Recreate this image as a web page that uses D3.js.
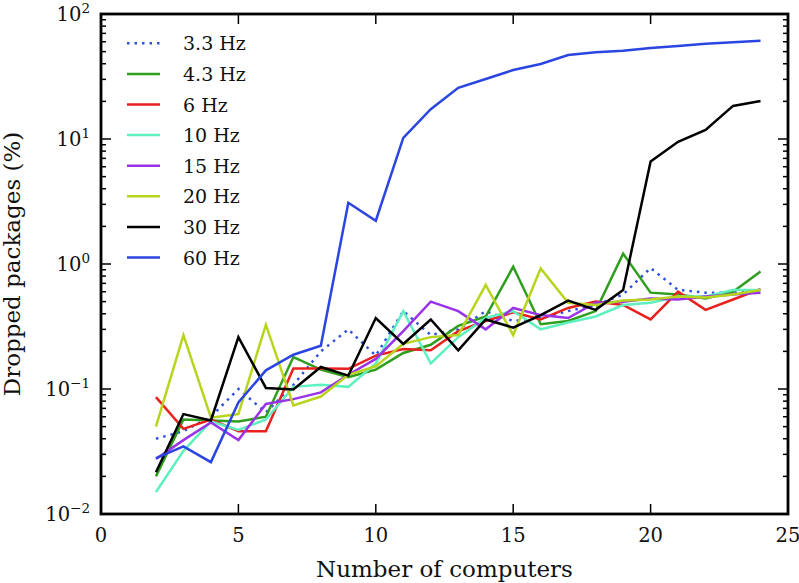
<!DOCTYPE html>
<html><head><meta charset="utf-8">
<script src="https://cdn.jsdelivr.net/npm/d3@7/dist/d3.min.js"></script>
<style>body{margin:0;background:#fff;} svg{display:block;}</style>
</head><body>
<svg id="chart" width="799" height="583"></svg>
<script>
// ---------- data ----------
const computers = [2,3,4,5,6,7,8,9,10,11,12,13,14,15,16,17,18,19,20,21,22,23,24];
const seriesNames = ["3.3 Hz","4.3 Hz","6 Hz","10 Hz","15 Hz","20 Hz","30 Hz","60 Hz"];
const hz3_3 = [0.040,0.046,0.060,0.100,0.065,0.108,0.200,0.300,0.185,0.420,0.270,0.300,0.420,0.350,0.370,0.420,0.470,0.570,0.930,0.620,0.590,0.590,0.600];
const hz4_3 = [0.020,0.057,0.056,0.055,0.060,0.180,0.143,0.124,0.143,0.194,0.226,0.320,0.380,0.950,0.330,0.350,0.420,1.210,0.590,0.570,0.530,0.600,0.870];
const hz6   = [0.086,0.048,0.057,0.046,0.046,0.146,0.146,0.145,0.185,0.209,0.204,0.290,0.350,0.410,0.360,0.445,0.500,0.470,0.360,0.600,0.430,0.520,0.630];
const hz10  = [0.015,0.032,0.055,0.047,0.057,0.104,0.108,0.104,0.160,0.420,0.160,0.260,0.370,0.420,0.300,0.340,0.380,0.470,0.490,0.550,0.550,0.620,0.620];
const hz15  = [0.0275,0.039,0.054,0.039,0.076,0.083,0.094,0.130,0.174,0.290,0.500,0.420,0.300,0.445,0.390,0.370,0.490,0.500,0.530,0.520,0.550,0.570,0.590];
const hz20  = [0.050,0.270,0.059,0.063,0.327,0.074,0.087,0.130,0.152,0.230,0.260,0.270,0.680,0.270,0.920,0.490,0.470,0.510,0.520,0.550,0.540,0.570,0.620];
const hz30  = [0.0216,0.063,0.056,0.260,0.102,0.099,0.150,0.128,0.370,0.229,0.360,0.204,0.360,0.310,0.390,0.510,0.430,0.620,6.6,9.5,11.8,18.4,20.1];
const hz60  = [0.028,0.0348,0.026,0.078,0.141,0.188,0.222,3.09,2.22,10.2,17.3,25.7,30.2,35.6,39.8,47.0,49.4,50.9,53.5,55.5,57.9,59.3,61.1];
const seriesValues = [hz3_3,hz4_3,hz6,hz10,hz15,hz20,hz30,hz60];
const seriesColors = ["#3050e0","#2f9e1e","#e8201e","#5ff0c0","#9a33e8","#b8d41c","#000000","#2b45e0"];
const seriesDash   = ["2.5,5",null,null,null,null,null,null,null];
const xTicks = [0,5,10,15,20,25];
const yTickExps = [-2,-1,0,1,2];
const xLabel = "Number of computers";
const yLabel = "Dropped packages (%)";

// ---------- layout ----------
const L = 101, R = 788, T = 14, B = 514;
const font = "'DejaVu Serif', serif";
const svg = d3.select("#chart");
const x = d3.scaleLinear().domain([0,25]).range([L,R]);
const y = d3.scaleLog().domain([0.01,100]).range([B,T]);

// data lines (clipped)
svg.append("clipPath").attr("id","clip").append("rect")
  .attr("x",L).attr("y",T).attr("width",R-L).attr("height",B-T);
const line = d3.line().x(d=>x(d[0])).y(d=>y(d[1]));
const g = svg.append("g").attr("clip-path","url(#clip)");
seriesValues.forEach((vals,i)=>{
  const p = g.append("path")
    .attr("d", line(computers.map((c,j)=>[c,vals[j]])))
    .attr("fill","none").attr("stroke",seriesColors[i])
    .attr("stroke-width",2.5).attr("stroke-linejoin","miter");
  if (seriesDash[i]) p.attr("stroke-dasharray",seriesDash[i]);
});

// ticks
const tickG = svg.append("g").attr("stroke","#000").attr("stroke-width",1.5);
xTicks.forEach(t=>{
  tickG.append("line").attr("x1",x(t)).attr("x2",x(t)).attr("y1",B).attr("y2",B-10);
  tickG.append("line").attr("x1",x(t)).attr("x2",x(t)).attr("y1",T).attr("y2",T+10);
});
yTickExps.forEach(e=>{
  const v = Math.pow(10,e);
  tickG.append("line").attr("x1",L).attr("x2",L+10).attr("y1",y(v)).attr("y2",y(v));
  tickG.append("line").attr("x1",R).attr("x2",R-10).attr("y1",y(v)).attr("y2",y(v));
  if (e < 2) for (let m=2;m<=9;m++){
    const mv = m*v;
    tickG.append("line").attr("x1",L).attr("x2",L+5).attr("y1",y(mv)).attr("y2",y(mv));
    tickG.append("line").attr("x1",R).attr("x2",R-5).attr("y1",y(mv)).attr("y2",y(mv));
  }
});

// frame
svg.append("rect").attr("x",L).attr("y",T).attr("width",R-L).attr("height",B-T)
  .attr("fill","none").attr("stroke","#000").attr("stroke-width",2.8);

// tick labels
svg.append("g").selectAll("text").data(xTicks).join("text")
  .attr("x",d=>x(d)).attr("y",B+28).attr("text-anchor","middle")
  .attr("font-family",font).attr("font-size",19.5).attr("fill","#111").text(d=>d);
const yl = svg.append("g").selectAll("text").data(yTickExps).join("text")
  .attr("x",L-11).attr("y",d=>y(Math.pow(10,d))+7).attr("text-anchor","end")
  .attr("font-family",font).attr("font-size",19.5).attr("fill","#111");
yl.append("tspan").text("10");
yl.append("tspan").attr("dy",-8).attr("font-size",13.5).text(d=>d<0?"\u2212"+(-d):String(d));

// axis labels
svg.append("text").attr("x",(L+R)/2).attr("y",577).attr("text-anchor","middle")
  .attr("font-family",font).attr("font-size",23).attr("fill","#111").text(xLabel);
svg.append("text").attr("transform",`translate(20,${(T+B)/2}) rotate(-90)`)
  .attr("text-anchor","middle").attr("font-family",font).attr("font-size",23)
  .attr("fill","#111").text(yLabel);

// legend
const leg = svg.append("g");
seriesNames.forEach((n,i)=>{
  const yy = 43.3 + i*30.6;
  const l = leg.append("line").attr("x1",127).attr("x2",160).attr("y1",yy).attr("y2",yy)
    .attr("stroke",seriesColors[i]).attr("stroke-width",2.5);
  if (seriesDash[i]) l.attr("stroke-dasharray",seriesDash[i]);
  leg.append("text").attr("x",183).attr("y",yy+7).attr("font-family",font)
    .attr("font-size",19).attr("fill","#111").text(n);
});
</script>
</body></html>
